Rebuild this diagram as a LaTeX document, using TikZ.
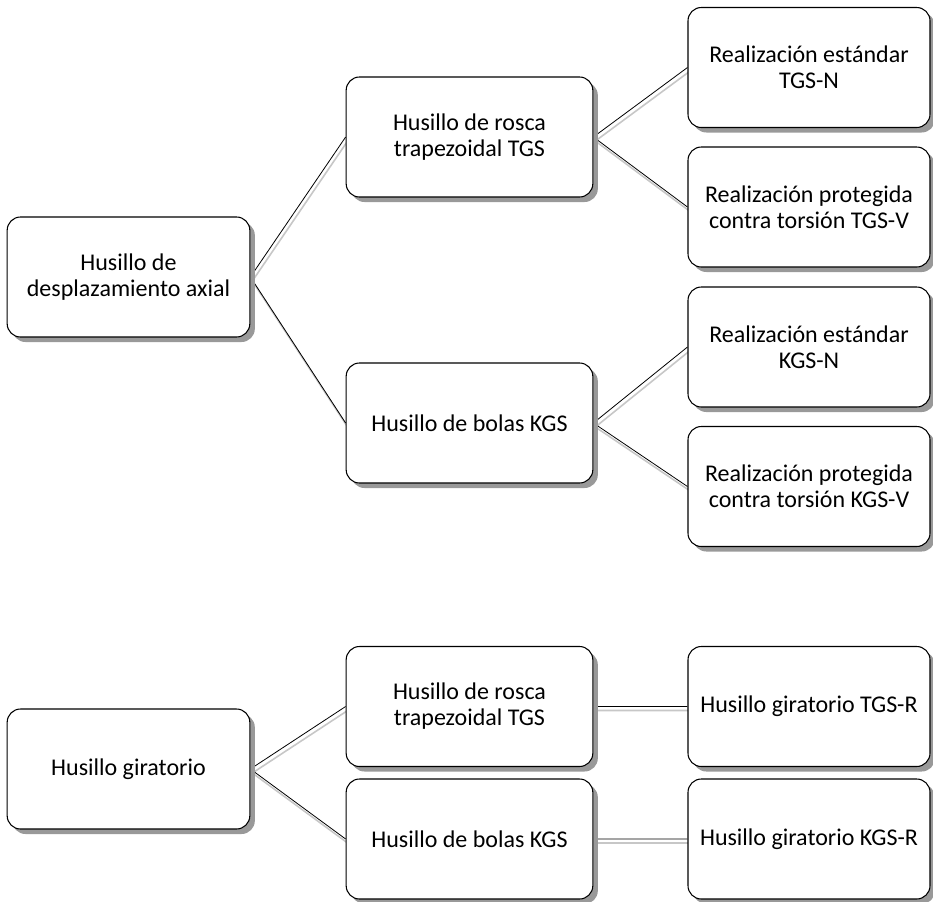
\documentclass[tikz,border=0pt]{standalone}
\usepackage{fontspec}
\setmainfont{Carlito}
\usetikzlibrary{shadows,backgrounds}
\tikzset{
  box/.style={draw,rounded corners=10pt,fill=white,line width=0.8pt,align=center,
    minimum height=90pt,inner sep=2pt,font=\fontsize{18}{19.5}\selectfont,
    drop shadow={shadow xshift=3.75pt,shadow yshift=-3.75pt,fill=black!40,opacity=1}},
  rootbox/.style={box,minimum width=182pt},
  midbox/.style={box,minimum width=185pt},
  leafbox/.style={box,minimum width=181.5pt},
  link/.style={line width=0.6pt,
    preaction={draw=black!22,line width=1.2pt,transform canvas={xshift=1.5pt,yshift=-3pt}}},
  every picture/.style={line cap=round,line join=round}
}

\begin{document}
\begin{tikzpicture}[x=0.75pt,y=-0.75pt]
    \useasboundingbox (0,0) rectangle (933,901);

    % husillo de desplazamiento axial
    \node[rootbox] (axial) at (128.5,277) {Husillo de\\desplazamiento axial};
    \node[midbox] (tgs1) at (469.5,137) {Husillo de rosca\\trapezoidal TGS};
    \node[midbox] (kgs1) at (469.5,423) {Husillo de bolas KGS};
    \node[leafbox] (tgsn) at (809,67.5) {Realización estándar\\TGS-N};
    \node[leafbox] (tgsv) at (809,207) {Realización protegida\\contra torsión TGS-V};
    \node[leafbox] (kgsn) at (809,347) {Realización estándar\\KGS-N};
    \node[leafbox] (kgsv) at (809,486.5) {Realización protegida\\contra torsión KGS-V};

    % husillo giratorio
    \node[rootbox] (girat) at (128.5,769) {Husillo giratorio};
    \node[midbox] (tgs2) at (469.5,706.5) {Husillo de rosca\\trapezoidal TGS};
    \node[midbox] (kgs2) at (469.5,839) {Husillo de bolas KGS};
    \node[leafbox] (tgsr) at (809,706.5) {Husillo giratorio TGS-R};
    \node[leafbox] (kgsr) at (809,839) {Husillo giratorio KGS-R};

    \begin{scope}[on background layer]
      \draw[link] (axial.east)--(tgs1.west) (axial.east)--(kgs1.west)
            (tgs1.east)--(tgsn.west) (tgs1.east)--(tgsv.west)
            (kgs1.east)--(kgsn.west) (kgs1.east)--(kgsv.west);
      \draw[link] (girat.east)--(tgs2.west) (girat.east)--(kgs2.west)
            (tgs2.east)--(tgsr.west) (kgs2.east)--(kgsr.west);
    \end{scope}
\end{tikzpicture}
\end{document}
